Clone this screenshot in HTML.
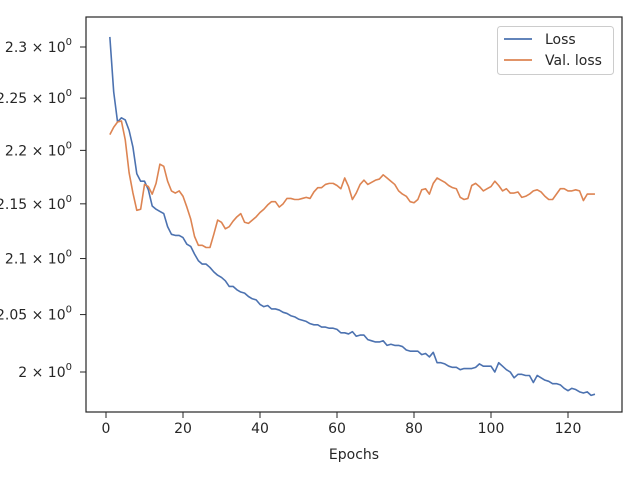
<!DOCTYPE html>
<html><head><meta charset="utf-8"><style>
body{margin:0;background:#fff}
svg text{font-family:"DejaVu Sans","Liberation Sans",sans-serif;fill:#262626}
</style></head><body>
<svg id="chart" width="640" height="480" viewBox="0 0 640 480">
<rect x="0" y="0" width="640" height="480" fill="#fff"/>
<g id="lines"></g>
<rect x="86" y="17" width="536" height="395" fill="none" stroke="#262626" stroke-width="1.2"/>
<g id="xticks"></g><g id="yticks"></g>
<text x="354" y="459" font-size="14" text-anchor="middle">Epochs</text>
<g>
<rect x="497.5" y="26.5" width="116" height="48" rx="3" fill="#fff" stroke="#ccc"/>
<line x1="504" y1="39" x2="532" y2="39" stroke="#4c72b0" stroke-width="1.8"/>
<text x="545" y="44" font-size="14">Loss</text>
<line x1="504" y1="60" x2="532" y2="60" stroke="#dd8452" stroke-width="1.8"/>
<text x="545" y="65" font-size="14">Val. loss</text>
</g>
</svg>
<script>
const lossValues=[2.310,2.256,2.227,2.231,2.229,2.219,2.203,2.178,2.171,2.171,2.163,2.148,2.145,2.143,2.141,2.129,2.122,2.121,2.121,2.119,2.113,2.111,2.104,2.098,2.095,2.095,2.092,2.088,2.085,2.083,2.080,2.075,2.075,2.072,2.070,2.069,2.066,2.064,2.063,2.059,2.057,2.058,2.055,2.055,2.054,2.052,2.051,2.049,2.048,2.046,2.045,2.044,2.042,2.041,2.041,2.039,2.039,2.038,2.038,2.037,2.034,2.034,2.033,2.035,2.031,2.032,2.032,2.028,2.027,2.026,2.026,2.027,2.023,2.024,2.023,2.023,2.022,2.019,2.018,2.018,2.018,2.015,2.016,2.013,2.017,2.008,2.008,2.007,2.005,2.004,2.004,2.002,2.003,2.003,2.003,2.004,2.007,2.005,2.005,2.005,2.000,2.008,2.005,2.002,2.000,1.995,1.998,1.998,1.997,1.997,1.991,1.997,1.995,1.993,1.992,1.990,1.990,1.989,1.986,1.984,1.986,1.985,1.983,1.982,1.983,1.980,1.981];
const valLossValues=[2.215,2.222,2.227,2.228,2.210,2.179,2.160,2.144,2.145,2.168,2.166,2.159,2.169,2.187,2.185,2.171,2.162,2.160,2.162,2.157,2.147,2.136,2.120,2.112,2.112,2.110,2.110,2.122,2.135,2.133,2.127,2.129,2.134,2.138,2.141,2.133,2.132,2.135,2.138,2.142,2.145,2.149,2.152,2.152,2.147,2.150,2.155,2.155,2.154,2.154,2.155,2.156,2.155,2.161,2.165,2.165,2.168,2.169,2.169,2.167,2.164,2.174,2.166,2.154,2.160,2.168,2.172,2.168,2.170,2.172,2.173,2.177,2.174,2.171,2.168,2.162,2.159,2.157,2.152,2.151,2.154,2.163,2.164,2.159,2.169,2.174,2.172,2.170,2.167,2.165,2.164,2.156,2.154,2.155,2.167,2.169,2.166,2.162,2.164,2.166,2.171,2.167,2.162,2.164,2.160,2.160,2.161,2.156,2.157,2.159,2.162,2.163,2.161,2.157,2.154,2.154,2.159,2.164,2.164,2.162,2.162,2.163,2.162,2.153,2.159,2.159,2.159];
const xTickValues=[0,20,40,60,80,100,120];
const yTickValues=[2.0,2.05,2.1,2.15,2.2,2.25,2.3];
const yTickLabels=["2","2.05","2.1","2.15","2.2","2.25","2.3"];
const NS="http://www.w3.org/2000/svg";
function xScale(e){return 106+3.85*e;}
function yScale(v){return 47+Math.log(2.3/v)*2325.4;}
function mk(tag,attrs,parent){const el=document.createElementNS(NS,tag);for(const k in attrs)el.setAttribute(k,attrs[k]);parent.appendChild(el);return el;}
const lines=document.getElementById('lines');
function drawLine(vals,color,name){
  const d=vals.map((v,i)=>(i?'L':'M')+xScale(i+1).toFixed(2)+','+yScale(v).toFixed(2)).join('');
  const p=mk('path',{d:d,fill:'none',stroke:color,'stroke-width':1.6,'stroke-linejoin':'round'},lines);
  
  
}
drawLine(lossValues,'#4c72b0','loss-line');
drawLine(valLossValues,'#dd8452','val-loss-line');
const xt=document.getElementById('xticks');
xTickValues.forEach(t=>{
  const x=xScale(t);
  mk('line',{x1:x,y1:412,x2:x,y2:418,stroke:'#262626','stroke-width':1},xt);
  const tx=mk('text',{x:x,y:433,'font-size':14,'text-anchor':'middle'},xt);
  tx.textContent=t;
  
  
});
const yt=document.getElementById('yticks');
yTickValues.forEach((t,i)=>{
  const y=yScale(t);
  mk('line',{x1:80,y1:y,x2:86,y2:y,stroke:'#262626','stroke-width':1},yt);
  const tx=mk('text',{x:76,y:y+5,'font-size':14,'text-anchor':'end'},yt);
  
  
  tx.textContent=yTickLabels[i]+' \u00d7 10';
  const sup=mk('tspan',{dy:-7,'font-size':10},tx);
  sup.textContent='0';
});
// shift labels so superscript fits right-aligned
yt.querySelectorAll('text').forEach(t=>t.setAttribute('x',72));
</script>
</body></html>
